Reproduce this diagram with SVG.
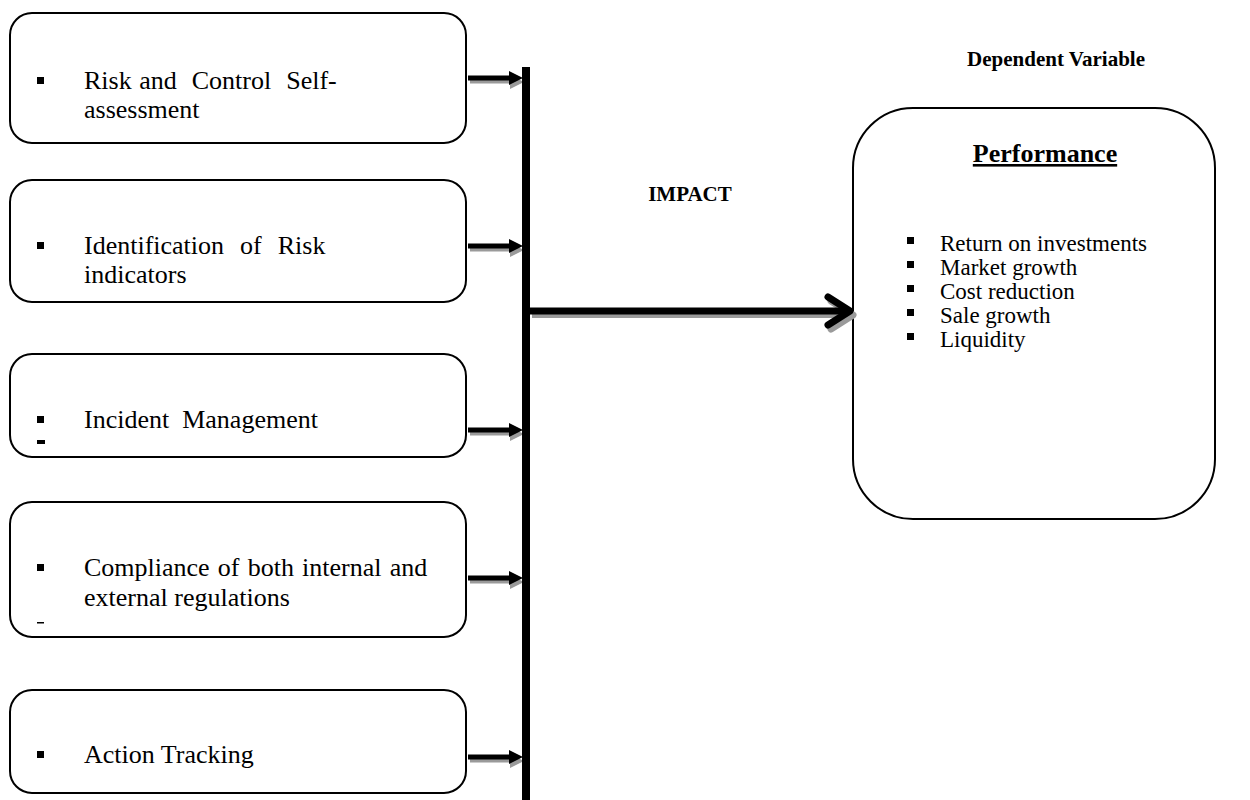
<svg xmlns="http://www.w3.org/2000/svg" width="1250" height="800" viewBox="0 0 1250 800">
<style>
.box{fill:#fff;stroke:#000;stroke-width:2}
.t{font-family:"Liberation Serif","Times New Roman",serif;font-size:26px;fill:#000;white-space:pre}
.r{font-family:"Liberation Serif","Times New Roman",serif;font-size:23px;fill:#000}
.b{font-family:"Liberation Serif","Times New Roman",serif;font-weight:bold;fill:#000}
.bul{fill:#000}
.shaft{stroke:#000;stroke-width:5;fill:none}
.shaftS{stroke:#9a9a9a;stroke-width:5;fill:none}
.head{fill:#000}
.headS{fill:#9a9a9a}
</style>
<defs>
<g id="sa">
<path class="shaftS" d="M470,3 H512"/>
<path class="headS" d="M510,-3 L524,4 L510,11 Z"/>
<path class="shaft" d="M468,0 H511"/>
<path class="head" d="M509,-7 L523,0 L509,7 Z"/>
</g>
</defs>
<g id="n1">
<rect class="box" x="10" y="13" width="456" height="130" rx="22"/>
<rect class="bul" x="37" y="77" width="7" height="7"/>
<text class="t" x="84" y="89" xml:space="preserve" word-spacing="1">Risk and  Control  Self-</text>
<text class="t" x="84" y="118">assessment</text>
</g>
<g id="n2">
<rect class="box" x="10" y="180" width="456" height="122" rx="22"/>
<rect class="bul" x="37" y="242" width="7" height="7"/>
<text class="t" x="84" y="254" xml:space="preserve" word-spacing="1.5">Identification  of  Risk</text>
<text class="t" x="84" y="283">indicators</text>
</g>
<g id="n3">
<rect class="box" x="10" y="354" width="456" height="103" rx="22"/>
<rect class="bul" x="37" y="416" width="7" height="7"/>
<text class="t" x="84" y="428" xml:space="preserve">Incident  Management</text>
<rect class="bul" x="37" y="440" width="8" height="4"/>
</g>
<g id="n4">
<rect class="box" x="10" y="502" width="456" height="135" rx="22"/>
<rect class="bul" x="37" y="564" width="7" height="7"/>
<text class="t" x="84" y="576" word-spacing="1.7">Compliance of both internal and</text>
<text class="t" x="84" y="606">external regulations</text>
<rect class="bul" x="37" y="622" width="7" height="1.5"/>
</g>
<g id="n5">
<rect class="box" x="10" y="690" width="456" height="103" rx="22"/>
<rect class="bul" x="37" y="751" width="7" height="7"/>
<text class="t" x="84" y="763">Action Tracking</text>
</g>
<g id="perf">
<rect class="box" x="853" y="108" width="362" height="411" rx="60"/>
<text class="b" x="1045" y="162" font-size="26" text-anchor="middle" text-decoration="underline">Performance</text>
<rect class="bul" x="907" y="237" width="7" height="7"/>
<text class="r" x="940" y="251">Return on investments</text>
<rect class="bul" x="907" y="261" width="7" height="7"/>
<text class="r" x="940" y="275">Market growth</text>
<rect class="bul" x="907" y="285" width="7" height="7"/>
<text class="r" x="940" y="299">Cost reduction</text>
<rect class="bul" x="907" y="309" width="7" height="7"/>
<text class="r" x="940" y="323">Sale growth</text>
<rect class="bul" x="907" y="333" width="7" height="7"/>
<text class="r" x="940" y="347">Liquidity</text>
</g>
<g id="labels">
<text class="b" x="1056" y="66" font-size="21" text-anchor="middle">Dependent Variable</text>
<text class="b" x="690" y="201" font-size="21" text-anchor="middle">IMPACT</text>
</g>
<g id="connectors">
<use href="#sa" transform="translate(0,78)"/>
<use href="#sa" transform="translate(0,246)"/>
<use href="#sa" transform="translate(0,430)"/>
<use href="#sa" transform="translate(0,578)"/>
<use href="#sa" transform="translate(0,757)"/>
<rect x="522" y="67" width="8" height="733" fill="#000"/>
<path d="M532,315 H850" stroke="#9a9a9a" stroke-width="6" fill="none"/>
<path d="M831,301 L853,315 L831,329" stroke="#9a9a9a" stroke-width="7" fill="none" stroke-linecap="round" stroke-linejoin="round"/>
<path d="M530,311 H847" stroke="#000" stroke-width="7" fill="none"/>
<path d="M828,297 L850,311 L828,325" stroke="#000" stroke-width="7" fill="none" stroke-linecap="round" stroke-linejoin="round"/>
</g>
</svg>
